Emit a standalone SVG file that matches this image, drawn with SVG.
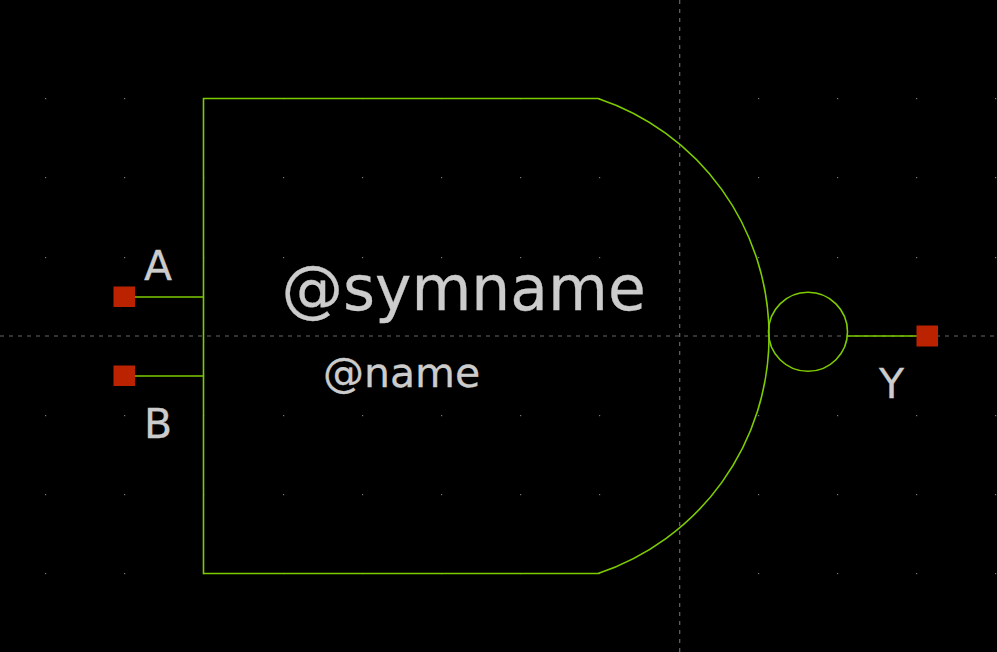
<svg xmlns="http://www.w3.org/2000/svg" width="997" height="652" viewBox="0 0 997 652">
<style>
.ax{stroke:#666;stroke-width:1.2;stroke-dasharray:4 5;fill:none}
.dot{fill:#777}
.ln{stroke:#7ecb00;stroke-width:1.6;fill:none}
.pin{fill:#bb2200}
text{font-family:"DejaVu Sans",sans-serif;fill:#cccccc;stroke:#cccccc;stroke-width:0.3}
</style>
<defs><g id="dots"><rect class="dot" x="45" width="1.2" height="1.2"/><rect class="dot" x="124" width="1.2" height="1.2"/><rect class="dot" x="203" width="1.2" height="1.2"/><rect class="dot" x="283" width="1.2" height="1.2"/><rect class="dot" x="362" width="1.2" height="1.2"/><rect class="dot" x="441" width="1.2" height="1.2"/><rect class="dot" x="520" width="1.2" height="1.2"/><rect class="dot" x="599" width="1.2" height="1.2"/><rect class="dot" x="758" width="1.2" height="1.2"/><rect class="dot" x="837" width="1.2" height="1.2"/><rect class="dot" x="916" width="1.2" height="1.2"/><rect class="dot" x="995" width="1.2" height="1.2"/></g></defs>
<rect width="997" height="652" fill="#000"/>
<g id="grid">
<use href="#dots" y="98"/><use href="#dots" y="177"/><use href="#dots" y="257"/><use href="#dots" y="415"/><use href="#dots" y="494"/><use href="#dots" y="573"/>
<path class="ax" d="M0 336H997M679.700 0V652"/>
</g>
<g id="connectors">
<path class="ln" d="M124 297H203"/>
<path class="ln" d="M124 376H203"/>
<path class="ln" d="M847 336H927"/>
</g>
<g id="gate-body"><path class="ln" d="M598 98.500H203.500V573.500H598A250.400 250.400 0 0 0 598 98.500Z"/></g>
<g id="bubble"><circle class="ln" cx="808" cy="331.800" r="39.500"/></g>
<g id="pin-A"><rect class="pin" x="113.500" y="286.500" width="21.500" height="20.500"/><text x="144" y="280" font-size="41">A</text></g>
<g id="pin-B"><rect class="pin" x="113.500" y="365.500" width="21.500" height="20.500"/><text x="144" y="438" font-size="41">B</text></g>
<g id="pin-Y"><rect class="pin" x="916.500" y="325.500" width="21.500" height="21"/><text x="879" y="398" font-size="41">Y</text></g>
<g id="labels"><text x="281.500" y="310" font-size="61.500">@symname</text><text x="323" y="387" font-size="41">@name</text></g>
</svg>
